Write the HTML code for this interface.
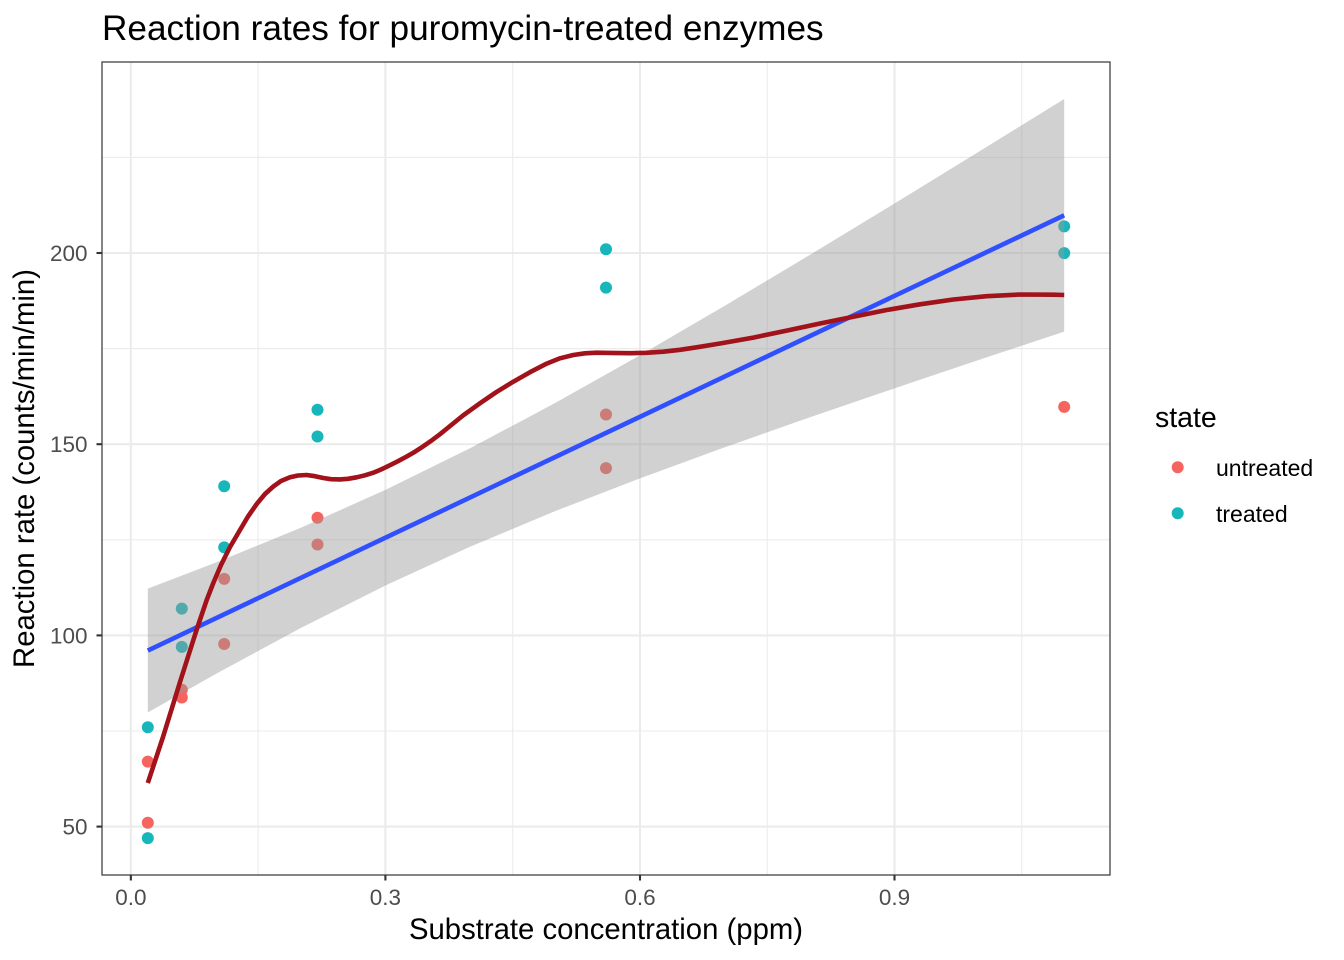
<!DOCTYPE html>
<html>
<head>
<meta charset="utf-8">
<style>
html,body{margin:0;padding:0;background:#fff;}
svg{display:block;font-family:"Liberation Sans",Arial,sans-serif;}
</style>
</head>
<body>
<svg width="1344" height="960" viewBox="0 0 1344 960" xmlns="http://www.w3.org/2000/svg">
<rect x="0" y="0" width="1344" height="960" fill="#ffffff"/>
<defs><clipPath id="panel"><rect x="102" y="62" width="1008" height="813"/></clipPath></defs>
<g clip-path="url(#panel)">
<!-- minor grid -->
<g stroke="#EBEBEB" stroke-width="1.1">
<line x1="102" x2="1110" y1="157.4" y2="157.4"/>
<line x1="102" x2="1110" y1="348.6" y2="348.6"/>
<line x1="102" x2="1110" y1="539.8" y2="539.8"/>
<line x1="102" x2="1110" y1="731.0" y2="731.0"/>
<line y1="62" y2="875" x1="258.1" x2="258.1"/>
<line y1="62" y2="875" x1="512.7" x2="512.7"/>
<line y1="62" y2="875" x1="767.2" x2="767.2"/>
<line y1="62" y2="875" x1="1021.8" x2="1021.8"/>
</g>
<!-- major grid -->
<g stroke="#EBEBEB" stroke-width="2.1">
<line x1="102" x2="1110" y1="253.0" y2="253.0"/>
<line x1="102" x2="1110" y1="444.2" y2="444.2"/>
<line x1="102" x2="1110" y1="635.4" y2="635.4"/>
<line x1="102" x2="1110" y1="826.6" y2="826.6"/>
<line y1="62" y2="875" x1="130.85" x2="130.85"/>
<line y1="62" y2="875" x1="385.4" x2="385.4"/>
<line y1="62" y2="875" x1="640.0" x2="640.0"/>
<line y1="62" y2="875" x1="894.5" x2="894.5"/>
</g>
<!-- points: treated -->
<g fill="#17B6BB">
<circle cx="147.8" cy="727.2" r="6"/>
<circle cx="147.8" cy="838.1" r="6"/>
<circle cx="181.8" cy="646.9" r="6"/>
<circle cx="181.8" cy="608.6" r="6"/>
<circle cx="224.2" cy="547.4" r="6"/>
<circle cx="224.2" cy="486.3" r="6"/>
<circle cx="317.5" cy="409.8" r="6"/>
<circle cx="317.5" cy="436.5" r="6"/>
<circle cx="606.0" cy="287.6" r="6"/>
<circle cx="606.0" cy="249.3" r="6"/>
<circle cx="1064.2" cy="226.4" r="6"/>
<circle cx="1064.2" cy="253.1" r="6"/>
</g>
<!-- points: untreated -->
<g fill="#F5645E">
<circle cx="147.8" cy="761.6" r="6"/>
<circle cx="147.8" cy="822.8" r="6"/>
<circle cx="181.8" cy="697.5" r="6"/>
<circle cx="181.8" cy="689.8" r="6"/>
<circle cx="224.2" cy="644.0" r="6"/>
<circle cx="224.2" cy="578.9" r="6"/>
<circle cx="317.5" cy="517.8" r="6"/>
<circle cx="317.5" cy="544.5" r="6"/>
<circle cx="606.0" cy="468.1" r="6"/>
<circle cx="606.0" cy="414.5" r="6"/>
<circle cx="1064.2" cy="406.9" r="6"/>
</g>
<!-- confidence ribbon -->
<polygon fill="#999999" fill-opacity="0.45" points="147.82,588.65 215.70,562.65 300.54,527.89 385.39,489.88 470.24,448.16 555.09,403.04 639.94,355.28 724.78,305.72 809.63,254.98 894.48,203.47 979.33,151.43 1064.18,98.96 1064.18,331.61 979.33,359.75 894.48,388.32 809.63,417.42 724.78,447.28 639.94,478.33 555.09,511.18 470.24,546.67 385.39,585.55 300.54,628.15 215.70,674.00 147.82,712.47"/>
<!-- linear fit -->
<line x1="147.82" y1="650.56" x2="1064.18" y2="215.29" stroke="#3050FF" stroke-width="4.6"/>
<!-- smooth curve -->
<polyline fill="none" stroke="#A2121A" stroke-width="4.6" stroke-linejoin="round" points="147.8,783 163,737 180,682 196.7,629.5 206.7,600 213.3,583 221,565 230,547 240,530 248,516.5 256.7,504 265,494 273.3,486.5 281,481 290,477.3 298,475.5 306.7,475 315,476.2 323.3,478 331,479.2 340,479.4 348,478.8 356.7,477.3 365,475.3 373.3,472.7 381,469.5 390,465.2 398,461.2 406.7,456.5 415,451.7 423.3,446.3 432,440.2 440,434.2 447,428.5 463,415.5 480,403.3 496,392.3 513.3,381.7 530,372.2 546.7,363.6 560,358.3 573.3,355 585,353.3 596.7,352.7 610,352.9 630,353.2 646,352.8 663.3,351.7 680,349.8 696.7,347.3 720,343.5 753.3,337.6 786.7,330.6 820,323.5 853.3,316.7 886.7,310 920,304.3 953.3,299.5 986.7,296.2 1020,294.5 1053.3,294.7 1064.2,295"/>
</g>
<!-- panel border -->
<rect x="102" y="62" width="1008" height="813" fill="none" stroke="#333333" stroke-width="1.2"/>
<!-- ticks -->
<g stroke="#333333" stroke-width="2.1">
<line x1="96.5" x2="102" y1="253.0" y2="253.0"/>
<line x1="96.5" x2="102" y1="444.2" y2="444.2"/>
<line x1="96.5" x2="102" y1="635.4" y2="635.4"/>
<line x1="96.5" x2="102" y1="826.6" y2="826.6"/>
<line y1="875" y2="880.5" x1="130.85" x2="130.85"/>
<line y1="875" y2="880.5" x1="385.4" x2="385.4"/>
<line y1="875" y2="880.5" x1="640.0" x2="640.0"/>
<line y1="875" y2="880.5" x1="894.5" x2="894.5"/>
</g>
<!-- tick labels -->
<g fill="#4D4D4D" font-size="22.5">
<text x="87.5" y="261" text-anchor="end">200</text>
<text x="87.5" y="452.2" text-anchor="end">150</text>
<text x="87.5" y="643.4" text-anchor="end">100</text>
<text x="87.5" y="834.6" text-anchor="end">50</text>
<text x="130.85" y="905" text-anchor="middle">0.0</text>
<text x="385.4" y="905" text-anchor="middle">0.3</text>
<text x="640.0" y="905" text-anchor="middle">0.6</text>
<text x="894.5" y="905" text-anchor="middle">0.9</text>
</g>
<!-- axis titles -->
<text x="606" y="939" text-anchor="middle" font-size="29.3" fill="#000">Substrate concentration (ppm)</text>
<text transform="translate(34,468.5) rotate(-90)" text-anchor="middle" font-size="29.3" fill="#000">Reaction rate (counts/min/min)</text>
<!-- title -->
<text x="102" y="40" font-size="35.2" fill="#000">Reaction rates for puromycin-treated enzymes</text>
<!-- legend -->
<text x="1155" y="427" font-size="28.5" fill="#000">state</text>
<circle cx="1177.7" cy="467.3" r="6" fill="#F5645E"/>
<circle cx="1177.7" cy="513.3" r="6" fill="#17B6BB"/>
<text x="1216" y="476" font-size="23" fill="#000">untreated</text>
<text x="1216" y="522" font-size="23" fill="#000">treated</text>
</svg>
</body>
</html>
